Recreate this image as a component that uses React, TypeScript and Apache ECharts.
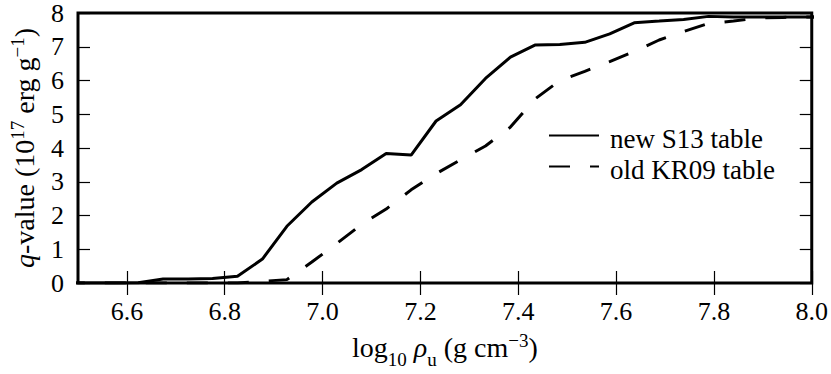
import React, { useEffect, useRef } from "react";
import * as echarts from "echarts";

const xValues = [
  6.471, 6.522, 6.573, 6.623, 6.674, 6.725, 6.775, 6.826, 6.877, 6.927,
  6.978, 7.029, 7.08, 7.13, 7.181, 7.232, 7.282, 7.333, 7.384, 7.434,
  7.485, 7.536, 7.587, 7.637, 7.688, 7.738, 7.789, 7.84, 7.89, 7.941,
  7.992, 8.042,
];
const newS13 = [
  0, 0, 0, 0.01, 0.12, 0.12, 0.13, 0.2, 0.71, 1.68,
  2.4, 2.96, 3.36, 3.84, 3.79, 4.8, 5.28, 6.06, 6.69, 7.05,
  7.07, 7.13, 7.38, 7.71, 7.76, 7.81, 7.9, 7.88, 7.88, 7.88,
  7.88, 7.88,
];
const oldKR09 = [
  0, 0, 0, 0, 0, 0, 0, 0, 0.05, 0.1,
  0.62, 1.17, 1.74, 2.19, 2.76, 3.24, 3.65, 4.06, 4.62, 5.45,
  6.0, 6.27, 6.56, 6.86, 7.2, 7.45, 7.69, 7.76, 7.85, 7.87,
  7.88, 7.88,
];
const xTicks = [6.6, 6.8, 7.0, 7.2, 7.4, 7.6, 7.8, 8.0];
const seriesNames = ["new S13 table", "old KR09 table"];

const FONT = "Times New Roman";

export default function App() {
  const ref = useRef<HTMLDivElement>(null);
  useEffect(() => {
    if (!ref.current) return;
    const chart = echarts.init(ref.current, null, { renderer: "svg" });
    const tickStyle = {
      show: true,
      inside: true,
      length: 12,
      lineStyle: { color: "#000", width: 1.2 },
    };
    const tickRich = {
      t: { fontFamily: FONT, fontSize: 26, color: "#000" },
    };
    const legendRich = {
      t: { fontFamily: FONT, fontSize: 27, color: "#000" },
    };
    const rich = {
      n: { fontFamily: FONT, fontSize: 28, color: "#000", lineHeight: 32 },
      it: { fontFamily: FONT, fontSize: 28, fontStyle: "italic", color: "#000", lineHeight: 32 },
      sup: { fontFamily: FONT, fontSize: 19, color: "#000", verticalAlign: "top", lineHeight: 32 },
      sub: { fontFamily: FONT, fontSize: 19, color: "#000", verticalAlign: "bottom", lineHeight: 32, padding: [0, 0, -6, 0] },
    };
    chart.setOption({
      animation: false,
      backgroundColor: "#fff",
      textStyle: { fontFamily: FONT },
      grid: {
        left: 77,
        right: 19,
        top: 12,
        bottom: 84,
        show: true,
        borderColor: "#000",
        borderWidth: 3,
        backgroundColor: "transparent",
      },
      legend: {
        orient: "vertical",
        left: 543,
        top: 120,
        itemWidth: 50,
        itemHeight: 14,
        itemGap: 4,
        data: seriesNames,
        itemStyle: { opacity: 0 },
        formatter: (name: string) => `{t|${name}}`,
        textStyle: {
          fontFamily: FONT,
          fontSize: 27,
          color: "#000",
          padding: [6, 0, 0, 6],
          rich: legendRich,
        },
      },
      xAxis: [
        {
          type: "value",
          min: 6.5,
          max: 8.0,
          position: "bottom",
          axisLine: { show: false },
          axisTick: { ...tickStyle, customValues: xTicks },
          splitLine: { show: false },
          axisLabel: {
            customValues: xTicks,
            formatter: (v: number) => `{t|${v.toFixed(1)}}`,
            fontFamily: FONT,
            fontSize: 26,
            color: "#000",
            margin: 15,
            rich: tickRich,
          },
          name: "{n|log}{sub|10} {it|ρ}{sub|u}{n| (g cm}{sup|−3}{n|)}",
          nameLocation: "middle",
          nameGap: 48,
          nameTextStyle: { fontFamily: FONT, fontSize: 28, color: "#000", rich },
        },
        {
          type: "value",
          min: 6.5,
          max: 8.0,
          position: "top",
          axisLine: { show: false },
          axisTick: { ...tickStyle, customValues: xTicks },
          splitLine: { show: false },
          axisLabel: { show: false },
        },
      ],
      yAxis: [
        {
          type: "value",
          min: 0,
          max: 8,
          interval: 1,
          position: "left",
          axisLine: { show: false },
          axisTick: tickStyle,
          splitLine: { show: false },
          axisLabel: {
            formatter: (v: number) => `{t|${v}}`,
            fontFamily: FONT,
            fontSize: 26,
            color: "#000",
            margin: 14,
            rich: tickRich,
          },
          name: "{it|q}{n|-value (10}{sup|17}{n| erg g}{sup|−1}{n|)}",
          nameLocation: "middle",
          nameRotate: 90,
          nameGap: 38,
          nameTextStyle: { fontFamily: FONT, fontSize: 28, color: "#000", rich },
        },
        {
          type: "value",
          min: 0,
          max: 8,
          interval: 1,
          position: "right",
          axisLine: { show: false },
          axisTick: tickStyle,
          splitLine: { show: false },
          axisLabel: { show: false },
        },
      ],
      series: [
        {
          name: seriesNames[0],
          type: "line",
          symbol: "none",
          data: xValues.map((x, i) => [x, newS13[i]]),
          lineStyle: { color: "#000", width: 3 },
          itemStyle: { color: "#000", opacity: 0 },
        },
        {
          name: seriesNames[1],
          type: "line",
          symbol: "none",
          data: xValues.map((x, i) => [x, oldKR09[i]]),
          lineStyle: { color: "#000", width: 3, type: [21, 20], dashOffset: 0 },
          itemStyle: { color: "#000", opacity: 0 },
        },
      ],
    });
    return () => chart.dispose();
  }, []);
  return (
    <div
      ref={ref}
      style={{ position: "absolute", left: 0, top: 0, width: 831, height: 374 }}
    />
  );
}
